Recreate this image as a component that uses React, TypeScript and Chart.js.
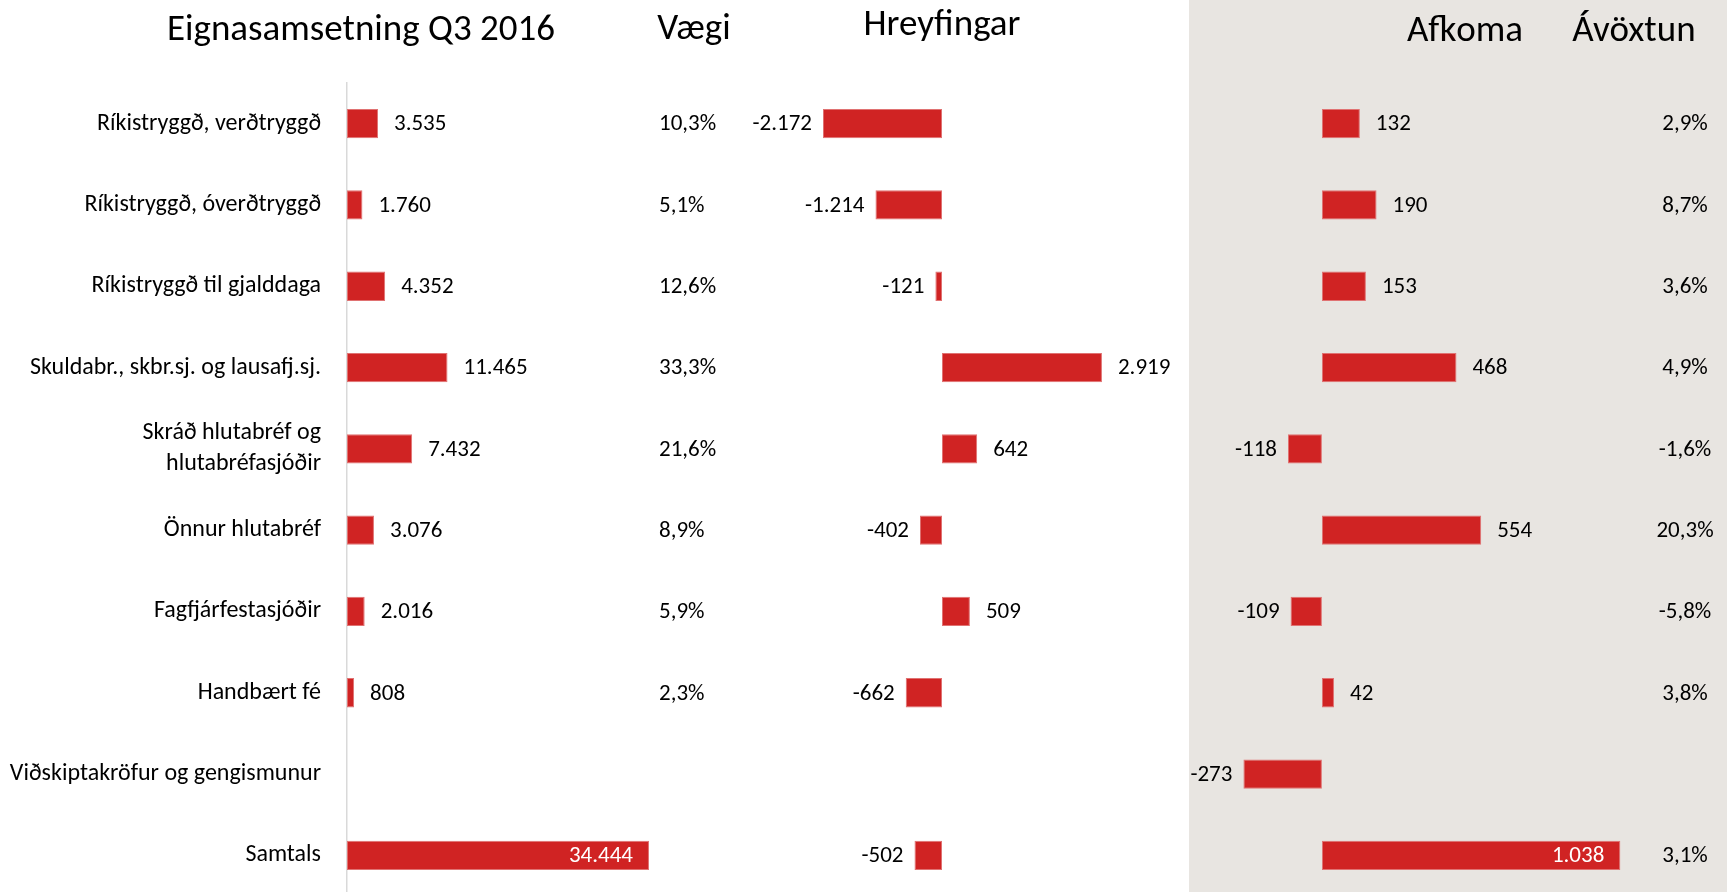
import React, { useEffect, useRef } from 'react';
import { Chart, registerables } from 'chart.js';

Chart.register(...registerables);

const categories: (string | string[])[] = [
  'Ríkistryggð, verðtryggð',
  'Ríkistryggð, óverðtryggð',
  'Ríkistryggð til gjalddaga',
  'Skuldabr., skbr.sj. og lausafj.sj.',
  ['Skráð hlutabréf og', 'hlutabréfasjóðir'],
  'Önnur hlutabréf',
  'Fagfjárfestasjóðir',
  'Handbært fé',
  'Viðskiptakröfur og gengismunur',
  'Samtals',
];

const eignasamsetning: (number | null)[] = [3535, 1760, 4352, 11465, 7432, 3076, 2016, 808, null, 34444];
const vaegi: string[] = ['10,3%', '5,1%', '12,6%', '33,3%', '21,6%', '8,9%', '5,9%', '2,3%', '', ''];
const hreyfingar: (number | null)[] = [-2172, -1214, -121, 2919, 642, -402, 509, -662, null, -502];
const afkoma: (number | null)[] = [132, 190, 153, 468, -118, 554, -109, 42, -273, 1038];
const avoxtun: string[] = ['2,9%', '8,7%', '3,6%', '4,9%', '-1,6%', '20,3%', '-5,8%', '3,8%', '', '3,1%'];

const headers = ['Eignasamsetning Q3 2016', 'Vægi', 'Hreyfingar', 'Afkoma', 'Ávöxtun'];

const FONT = "Carlito, Lato, 'Liberation Sans', sans-serif";
const RED = '#D02323';
const BAR_BORDER = '#E07272';
const PANEL_BG = '#E8E5E1';
const AXIS_LINE = '#D9D9D9';
const W = 1727;
const H = 896;

const fmt = (v: number) => {
  const s = Math.abs(v).toString().replace(/\B(?=(\d{3})+(?!\d))/g, '.');
  return (v < 0 ? '-' : '') + s;
};

const overlayPlugin = {
  id: 'overlay',
  beforeDraw(chart: any) {
    const { ctx } = chart;
    ctx.save();
    ctx.fillStyle = '#FFFFFF';
    ctx.fillRect(0, 0, chart.width, chart.height);
    ctx.fillStyle = PANEL_BG;
    ctx.fillRect(1189, 0, chart.width - 1189, chart.height);
    ctx.restore();
  },
  afterDatasetsDraw(chart: any) {
    const { ctx } = chart;
    ctx.save();
    ctx.font = `23px ${FONT}`;
    ctx.textBaseline = 'middle';
    chart.data.datasets.forEach((ds: any, di: number) => {
      const meta = chart.getDatasetMeta(di);
      meta.data.forEach((bar: any, i: number) => {
        const v = ds.data[i];
        if (v === null || v === undefined) return;
        const txt = fmt(v);
        const w = Math.abs(bar.x - bar.base);
        const y = bar.y + 1;
        if (w > 200) {
          ctx.fillStyle = '#FFFFFF';
          ctx.textAlign = 'right';
          ctx.fillText(txt, bar.x - 16, y);
        } else if (v < 0) {
          ctx.fillStyle = '#000000';
          ctx.textAlign = 'right';
          ctx.fillText(txt, bar.x - 11, y);
        } else {
          ctx.fillStyle = '#000000';
          ctx.textAlign = 'left';
          ctx.fillText(txt, bar.x + 16, y);
        }
      });
    });
    const yScale = chart.scales.y;
    ctx.fillStyle = '#000000';
    vaegi.forEach((t, i) => {
      if (!t) return;
      ctx.textAlign = 'left';
      ctx.fillText(t, 659, yScale.getPixelForValue(i) + 1);
    });
    avoxtun.forEach((t, i) => {
      if (!t) return;
      ctx.textAlign = 'center';
      ctx.fillText(t, 1685, yScale.getPixelForValue(i) + 1);
    });
    // headers
    ctx.font = `37px ${FONT}`;
    ctx.textAlign = 'center';
    ctx.fillText(headers[0], 361, 31);
    ctx.fillText(headers[1], 694, 30);
    ctx.fillText(headers[2], chart.scales.x2.getPixelForValue(0), 26);
    ctx.fillText(headers[3], 1465, 32);
    ctx.fillText(headers[4], 1634, 32);
    ctx.restore();
  },
};

export default function App() {
  const ref = useRef<HTMLCanvasElement>(null);
  useEffect(() => {
    if (!ref.current) return;
    const barCommon = {
      backgroundColor: RED,
      borderColor: BAR_BORDER,
      borderWidth: 1,
      borderSkipped: false,
      grouped: false,
      barPercentage: 0.36,
      categoryPercentage: 1,
    };
    const chart = new Chart(ref.current, {
      type: 'bar',
      data: {
        labels: categories,
        datasets: [
          { ...barCommon, label: 'Eignasamsetning', data: eignasamsetning, xAxisID: 'x1' },
          { ...barCommon, label: 'Hreyfingar', data: hreyfingar, xAxisID: 'x2' },
          { ...barCommon, label: 'Afkoma', data: afkoma, xAxisID: 'x3' },
        ] as any,
      },
      options: {
        indexAxis: 'y',
        animation: false,
        responsive: false,
        devicePixelRatio: 1,
        layout: { padding: { top: 83, left: 0, right: 0, bottom: 0 } },
        plugins: { legend: { display: false }, tooltip: { enabled: false }, title: { display: false } },
        scales: {
          y: {
            type: 'category',
            position: 'left',
            afterFit: (s: any) => {
              s.width = 347;
              s.paddingTop = 0;
              s.paddingBottom = 0;
            },
            grid: { display: false },
            border: { display: true, color: AXIS_LINE, width: 1.5 },
            ticks: { padding: 18, color: '#000000', font: { family: FONT, size: 24, lineHeight: 1.3 } },
          },
          x1: { type: 'linear', display: false, min: 0, max: 157400 },
          x2: { type: 'linear', display: false, min: -10858, max: 14325 },
          x3: { type: 'linear', display: false, min: -3391, max: 1409 },
        },
      } as any,
      plugins: [overlayPlugin],
    });
    return () => chart.destroy();
  }, []);
  return (
    <div style={{ position: 'fixed', left: 0, top: 0, width: W, height: H, overflow: 'hidden', background: '#FFFFFF' }}>
      <canvas ref={ref} width={W} height={H} style={{ display: 'block', width: W, height: H }} />
    </div>
  );
}
